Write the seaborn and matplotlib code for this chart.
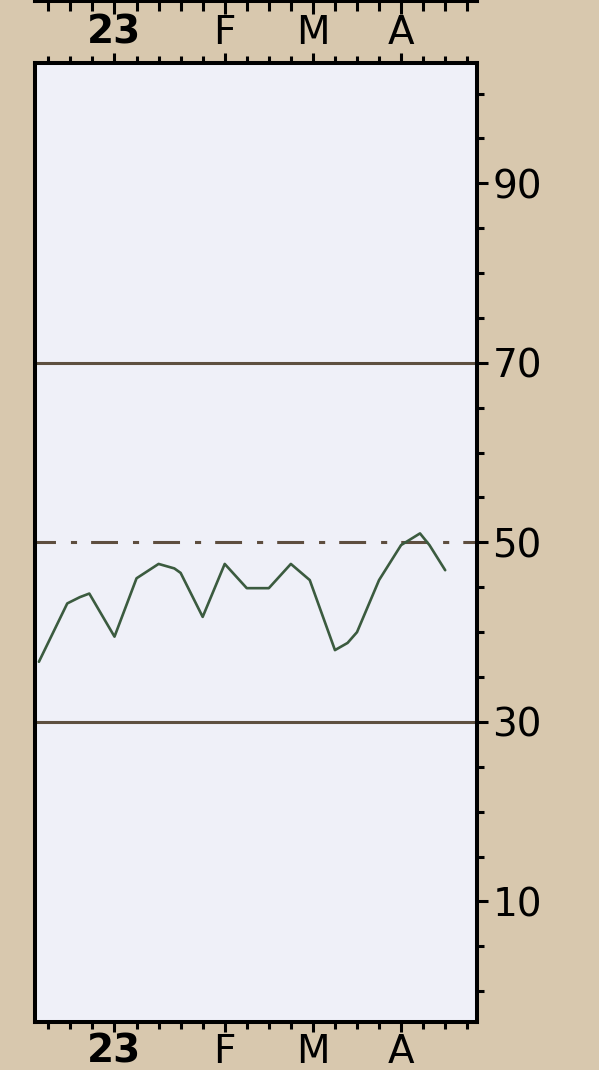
import pandas as pd
import matplotlib.pyplot as plt
import matplotlib.dates as mdates
import matplotlib.ticker as mticker
import seaborn as sns

# datos (indicador semanal, escala 0-100)
fechas = ['2022-12-09', '2022-12-18', '2022-12-22', '2022-12-25', '2023-01-02',
          '2023-01-09', '2023-01-16', '2023-01-21', '2023-01-23', '2023-01-30',
          '2023-02-06', '2023-02-13', '2023-02-20', '2023-02-27', '2023-03-05',
          '2023-03-13', '2023-03-17', '2023-03-20', '2023-03-27', '2023-04-03',
          '2023-04-09', '2023-04-12', '2023-04-17']
valores = [36.7, 43.2, 43.9, 44.3, 39.5,
           46.0, 47.6, 47.1, 46.6, 41.7,
           47.6, 44.9, 44.9, 47.6, 45.8,
           38.0, 38.8, 40.0, 45.8, 49.7,
           51.0, 49.7, 46.9]

niveles = [70, 30]
nivel_medio = 50

ticks_mes = ['2023-01-02', '2023-02-06', '2023-03-06', '2023-04-03']
etiquetas_mes = ['23', 'F', 'M', 'A']
ticks_y = [10, 30, 50, 70, 90]

df = pd.DataFrame({'fecha': pd.to_datetime(fechas), 'valor': valores})

sns.set_style("white")
plt.rcParams['font.family'] = ['DejaVu Sans']

fondo = '#d8c8ae'
panel = '#eff0f8'

fig = plt.figure(figsize=(5.99, 10.70), dpi=100, facecolor=fondo)
W, H = 599, 1070
ax = fig.add_axes([34.5 / W, 1 - 1021.5 / H, (477 - 34.5) / W, (1021.5 - 63) / H])
arriba = fig.add_axes([34.5 / W, 1 - 1 / H, (477 - 34.5) / W, 0.1])

base = pd.Timestamp('2022-12-12')
xlim = (base - pd.Timedelta(days=4.4), base + pd.Timedelta(days=136.1))

for a in (ax, arriba):
    a.set_facecolor(panel)
    for s in a.spines.values():
        s.set_color('black')
        s.set_linewidth(2.9)
    a.set_xlim(xlim)
    a.xaxis.set_major_locator(mticker.FixedLocator(mdates.date2num(pd.to_datetime(ticks_mes))))
    a.xaxis.set_minor_locator(mdates.WeekdayLocator(byweekday=mdates.MO))

# lineas de referencia
for n in niveles:
    ax.axhline(n, color='#5e5040', lw=2.2)
ax.axhline(nivel_medio, color='#5e4e3f', lw=2.2, ls=(2.1, (8.8, 4.9, 2.0, 4.6)))

sns.lineplot(data=df, x='fecha', y='valor', ax=ax, color='#3b5b3f', lw=1.9)

ax.set_xlim(xlim)
ax.set_ylim(-3.37, 103.4)
ax.set_xlabel('')
ax.set_ylabel('')

ax.xaxis.set_major_formatter(mticker.FixedFormatter(etiquetas_mes))
ax.tick_params(axis='x', which='both', top=True, bottom=True, labeltop=True, labelbottom=True,
               direction='out', width=2.2, color='black', labelcolor='black', labelsize=28, pad=1)
ax.tick_params(axis='x', which='major', length=7.2)
ax.tick_params(axis='x', which='minor', length=5)

ax.yaxis.tick_right()
ax.yaxis.set_major_locator(mticker.FixedLocator(ticks_y))
ax.yaxis.set_minor_locator(mticker.MultipleLocator(5))
ax.tick_params(axis='y', which='both', left=False, right=True, direction='out',
               width=2.2, color='black', labelcolor='black', labelsize=28, pad=3)
ax.tick_params(axis='y', which='major', length=8)
ax.tick_params(axis='y', which='minor', length=5)

for t in ax.xaxis.get_major_ticks()[:1]:
    t.label1.set_fontweight('bold')
    t.label2.set_fontweight('bold')

# panel superior (solo se ve el borde inferior)
arriba.set_ylim(0, 1)
arriba.set_yticks([])
arriba.tick_params(axis='x', which='both', bottom=True, top=False, labelbottom=False,
                   direction='out', width=2.2, color='black')
arriba.tick_params(axis='x', which='major', length=9.4)
arriba.tick_params(axis='x', which='minor', length=7.2)

fig.savefig('out.png', dpi=100, facecolor=fondo)
